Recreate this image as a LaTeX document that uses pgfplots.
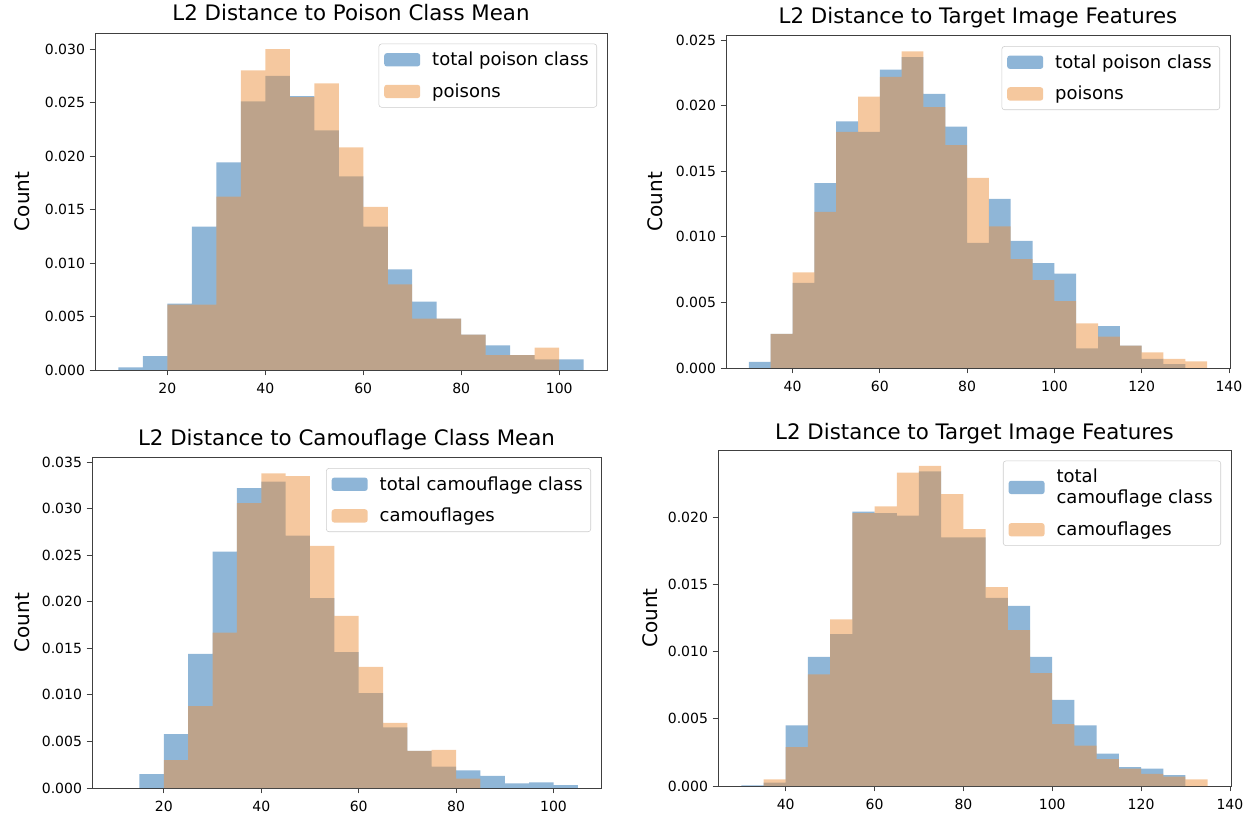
\documentclass[border=0pt]{standalone}
\usepackage{pgfplots}
\pgfplotsset{compat=1.18}
\usepackage{fontspec}
\setmainfont{DejaVu Sans}
\definecolor{tabblue}{HTML}{1F6DB0}
\definecolor{taborange}{HTML}{EC9240}
\pgfplotsset{
  hist/.style={ybar interval, draw=none, fill opacity=0.5,
    legend image code/.code={\fill[##1] (0pt,-5pt) rectangle (27pt,5pt); \path (34pt,0pt);}},
  panel/.style={
    scale only axis, anchor=south west,
    axis line style={black!75, line width=0.6pt},
    tick align=outside, tick pos=left, major tick length=4pt,
    tick style={black!75, line width=0.6pt},
    ymin=0, scaled y ticks=false,
    /pgf/number format/assume math mode=true,
    ticklabel style={font=\fontsize{10.5}{12}\selectfont},
    xticklabel style={yshift=-2pt},
    yticklabel style={/pgf/number format/.cd, fixed, fixed zerofill, precision=3},
    title style={font=\fontsize{16}{19}\selectfont, at={(0.5,1)}, anchor=base, yshift=3pt},
    ylabel={Count},
    legend style={font=\fontsize{13.5}{16}\selectfont, draw=black!20, rounded corners=2pt,
      fill=white, fill opacity=0.8, text opacity=1, at={(1,1)}, anchor=north east,
      xshift=-7.5pt, yshift=-8pt, inner xsep=4pt, inner ysep=4pt, row sep=8pt,
      cells={anchor=west, align=left}},
    legend cell align=left,
  }
}
\begin{document}
\begin{tikzpicture}
\useasboundingbox (0,0) rectangle (939pt,613.5pt);
% Panel 1
\begin{axis}[panel, at={(71.25pt,336pt)}, width=384pt, height=252.75pt,
  xmin=5.25, xmax=109.75, ymax=0.0315,
  xtick={20,40,60,80,100}, ytick={0,0.005,0.01,0.015,0.02,0.025,0.03},
  title={L2 Distance to Poison Class Mean},
  every axis y label/.style={at={(axis description cs:-0.1426,0.5)}, rotate=90, anchor=center, font=\fontsize{15}{18}\selectfont}]
\addplot[hist, fill=tabblue] coordinates {
(10,0.00025) (15,0.0013) (20,0.0062) (25,0.0134) (30,0.0194) (35,0.0251) (40,0.0275)
(45,0.0256) (50,0.0224) (55,0.0181) (60,0.0134) (65,0.0094) (70,0.0064) (75,0.0048)
(80,0.0033) (85,0.0023) (90,0.0014) (95,0.0010) (100,0.0010) (105,0)};
\addlegendentry{total poison class}
\addplot[hist, fill=taborange] coordinates {
(20,0.0061) (25,0.0061) (30,0.0162) (35,0.0280) (40,0.0300) (45,0.0255) (50,0.0268)
(55,0.0208) (60,0.01525) (65,0.0080) (70,0.0048) (75,0.0048) (80,0.0033) (85,0.0014)
(90,0.0014) (95,0.0021) (100,0)};
\addlegendentry{poisons}
\end{axis}
% Panel 2
\begin{axis}[panel, at={(544.5pt,337.5pt)}, width=378pt, height=249.4pt,
  xmin=24.75, xmax=140.25, ymax=0.02536,
  xtick={40,60,80,100,120,140}, ytick={0,0.005,0.01,0.015,0.02,0.025},
  title={L2 Distance to Target Image Features},
  every axis y label/.style={at={(axis description cs:-0.141,0.5)}, rotate=90, anchor=center, font=\fontsize{15}{18}\selectfont}]
\addplot[hist, fill=tabblue] coordinates {
(30,0.00046) (35,0.0026) (40,0.0065) (45,0.0141) (50,0.0188) (55,0.0180) (60,0.02275)
(65,0.0237) (70,0.0209) (75,0.0184) (80,0.00955) (85,0.0129) (90,0.0097) (95,0.0080)
(100,0.0072) (105,0.0015) (110,0.0032) (115,0.0017) (120,0.0007) (125,0.0003) (130,0)};
\addlegendentry{total poison class}
\addplot[hist, fill=taborange] coordinates {
(35,0.0026) (40,0.0073) (45,0.0119) (50,0.0180) (55,0.0207) (60,0.0222) (65,0.02415)
(70,0.0199) (75,0.0170) (80,0.0145) (85,0.0108) (90,0.0083) (95,0.0067) (100,0.0051)
(105,0.0034) (110,0.0024) (115,0.0017) (120,0.0012) (125,0.0007) (130,0.0005) (135,0)};
\addlegendentry{poisons}
\end{axis}
% Panel 3
\begin{axis}[panel, at={(69pt,22.5pt)}, width=381.75pt, height=247.9pt,
  xmin=5.25, xmax=109.75, ymax=0.0355,
  xtick={20,40,60,80,100}, ytick={0,0.005,0.01,0.015,0.02,0.025,0.03,0.035},
  title={L2 Distance to Camouflage Class Mean},
  every axis y label/.style={at={(axis description cs:-0.1375,0.5)}, rotate=90, anchor=center, font=\fontsize{15}{18}\selectfont}]
\addplot[hist, fill=tabblue] coordinates {
(15,0.0015) (20,0.0058) (25,0.0144) (30,0.0254) (35,0.0322) (40,0.0329) (45,0.0271)
(50,0.0204) (55,0.0146) (60,0.0102) (65,0.0065) (70,0.0040) (75,0.0023) (80,0.0019)
(85,0.0013) (90,0.0005) (95,0.0006) (100,0.0003) (105,0)};
\addlegendentry{total camouflage class}
\addplot[hist, fill=taborange] coordinates {
(20,0.0030) (25,0.0088) (30,0.0167) (35,0.0306) (40,0.0338) (45,0.0335) (50,0.0260)
(55,0.0185) (60,0.0130) (65,0.0070) (70,0.0040) (75,0.0041) (80,0.0010) (85,0)};
\addlegendentry{camouflages}
\end{axis}
% Panel 4
\begin{axis}[panel, at={(538.5pt,24pt)}, width=384.75pt, height=252pt,
  xmin=24.75, xmax=140.25, ymax=0.02499,
  xtick={40,60,80,100,120,140}, ytick={0,0.005,0.01,0.015,0.02},
  title={L2 Distance to Target Image Features},
  title style={yshift=-1pt},
  every axis y label/.style={at={(axis description cs:-0.1326,0.5)}, rotate=90, anchor=center, font=\fontsize{15}{18}\selectfont}]
\addplot[hist, fill=tabblue] coordinates {
(30,0.00005) (35,0.00025) (40,0.0045) (45,0.0096) (50,0.0113) (55,0.0204) (60,0.0203)
(65,0.0201) (70,0.0234) (75,0.0185) (80,0.0185) (85,0.0140) (90,0.0134) (95,0.0096)
(100,0.0064) (105,0.0045) (110,0.0024) (115,0.0014) (120,0.0013) (125,0.0008) (130,0)};
\addlegendentry{total\\camouflage class}
\addplot[hist, fill=taborange] coordinates {
(35,0.0005) (40,0.0029) (45,0.0083) (50,0.0124) (55,0.0203) (60,0.0208) (65,0.0233)
(70,0.0238) (75,0.0217) (80,0.0191) (85,0.0148) (90,0.0116) (95,0.0084) (100,0.0046)
(105,0.0030) (110,0.0020) (115,0.0013) (120,0.0009) (125,0.0007) (130,0.0005) (135,0)};
\addlegendentry{camouflages}
\end{axis}
\end{tikzpicture}
\end{document}
